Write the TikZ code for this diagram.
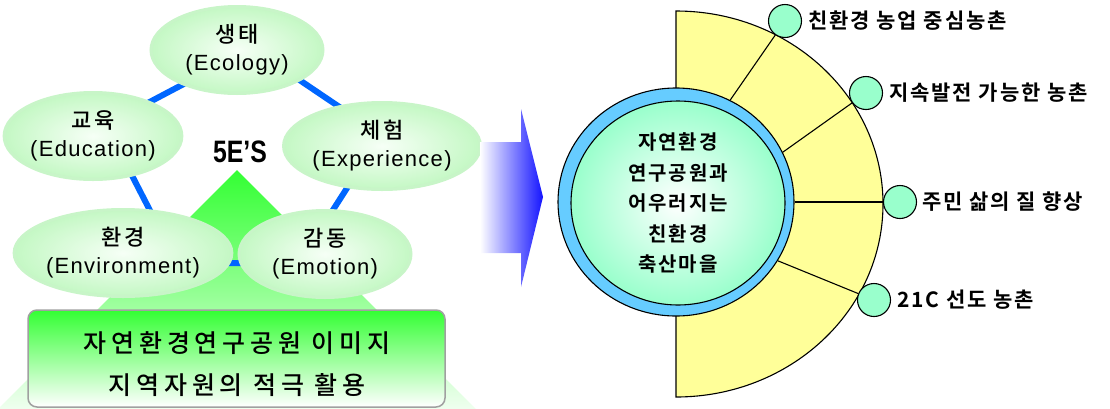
\documentclass[tikz,border=0pt]{standalone}
\usepackage{fontspec}
\setmainfont{Noto Sans CJK KR}
\newfontfamily\krfont[LetterSpace=10]{Noto Sans CJK KR Medium}
\newfontfamily\krbold[LetterSpace=10]{Noto Sans CJK KR Bold}
\newfontfamily\krwide[LetterSpace=19]{Noto Sans CJK KR Medium}
\newfontfamily\krtag[LetterSpace=9]{Noto Sans CJK KR Bold}
\newfontfamily\enfont[LetterSpace=6]{Liberation Sans}
\newfontfamily\headfont{Liberation Sans}
\usetikzlibrary{shapes.geometric, positioning}

\definecolor{leafgreen}{RGB}{196,248,196}
\definecolor{leafwhite}{RGB}{246,255,246}
\definecolor{leafedge}{RGB}{200,245,200}
\definecolor{fivegreen}{RGB}{51,255,51}
\definecolor{midgreen}{RGB}{150,255,150}
\definecolor{fadegreen}{RGB}{240,255,240}
\definecolor{linkblue}{RGB}{0,102,255}
\definecolor{arrowblue}{RGB}{20,20,255}
\definecolor{fieldyellow}{RGB}{255,255,153}
\definecolor{ringblue}{RGB}{102,204,255}
\definecolor{mint}{RGB}{153,255,204}
\definecolor{boxgray}{RGB}{160,160,160}

\tikzset{
  sphere/.style={ellipse, minimum width=172pt, minimum height=87pt, inner sep=0pt,
    shade, inner color=leafwhite, outer color=leafgreen, draw=leafedge, line width=3pt,
    align=center, font=\fontsize{22}{28}\selectfont},
  link/.style={linkblue, line width=6pt},
  dot/.style={circle, minimum size=33pt, inner sep=0pt, fill=mint, draw=black, line width=1.1pt},
  tag/.style={inner sep=3pt, font=\fontsize{21}{24}\selectfont\krtag}
}

\begin{document}
\begin{tikzpicture}[x=1pt, y=-1pt]
  \useasboundingbox (0,0) rectangle (1110,408);

  % green wedge behind the five E's
  \shade[top color=fivegreen, middle color=midgreen, bottom color=fadegreen]
    (237,170) -- (-3,410) -- (477,410) -- cycle;

  \coordinate (vEco) at (252,48);
  \coordinate (vExp) at (381,135);
  \coordinate (vEmo) at (299,263);
  \coordinate (vEnv) at (177,263);
  \coordinate (vEdu) at (106,125);
  \draw[link] (vEco) -- (vExp) -- (vEmo) -- (vEnv) -- (vEdu) -- cycle;

  \node[sphere] (eco) at (237,50) {{\krfont 생태}\\{\enfont (Ecology)}};
  \node[sphere] (edu) at (93,136) {{\krfont 교육}\\{\enfont (Education)}};
  \node[sphere] (exp) at (382,146) {{\krfont 체험}\\{\enfont (Experience)}};
  \node[sphere] (env) at (123,253) {{\krfont 환경}\\{\enfont (Environment)}};
  \node[sphere] (emo) at (325,254) {{\krfont 감동}\\{\enfont (Emotion)}};

  \node[font=\fontsize{31}{31}\selectfont\headfont\bfseries] (five) at (240,152)
    {\scalebox{0.8}[1]{5E’S}};

  \node[draw=boxgray, line width=1.5pt, rounded corners=9pt,
        minimum width=417pt, minimum height=97pt,
        top color=fivegreen, middle color=midgreen, bottom color=white] (goal) at (236.5,358.5) {};
  \node[align=center, font=\fontsize{25}{42}\selectfont\krwide] (goaltext) at (237,364)
    {자연환경연구공원 이미지\\지역자원의 적극 활용};

  % arrow
  \shade[left color=white, right color=arrowblue]
    (480,142) -- (521,142) -- (521,109) -- (543,197) -- (521,287) -- (521,253) -- (480,253) -- cycle;

  % right half
  \filldraw[fill=fieldyellow, draw=black, line width=1.1pt]
    (676,11) arc[start angle=-90, end angle=90, x radius=207, y radius=193] -- cycle;

  \node[ellipse, minimum width=236pt, minimum height=228pt, fill=ringblue, draw=black,
        line width=1.1pt] (ring) at (676,202) {};
  \node[ellipse, minimum width=214pt, minimum height=204pt, inner sep=0pt,
        shade, inner color=white, outer color=mint, draw=black, line width=1.1pt,
        align=center, font=\fontsize{20}{30.5}\selectfont\krbold] (core) at (678,203)
    {자연환경\\연구공원과\\어우러지는\\친환경\\축산마을};

  \node[dot] (d1) at (785,21) {};
  \node[dot] (d2) at (866,93) {};
  \node[dot] (d3) at (900,202) {};
  \node[dot] (d4) at (874,300) {};

  \draw[line width=1.1pt] (ring.62) -- (d1);
  \draw[line width=1.1pt] (ring.25) -- (d2);
  \draw[line width=1.1pt] (ring.0) -- (d3);
  \draw[line width=1.1pt] (ring.-30) -- (d4);

  \node[tag, right=3pt of d1] (t1) {친환경 농업 중심농촌};
  \node[tag, right=3pt of d2] (t2) {지속발전 가능한 농촌};
  \node[tag, right=2pt of d3] (t3) {주민 삶의 질 향상};
  \node[tag, right=3pt of d4] (t4) {21C 선도 농촌};
\end{tikzpicture}
\end{document}
